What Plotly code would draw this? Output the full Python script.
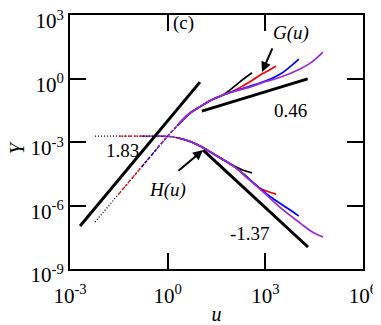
import numpy as np
import plotly.graph_objects as go

# ---- data (log10 values) ----
# low-u part shared by all curves (dotted/dashed region)
LOW_LOGU = [-2.23, -1.5, -0.8, -0.3, 0.0, 0.3]
G_LOW = [-6.78, -5.45, -4.17, -3.25, -2.72, -2.22]
H_LOW = [-2.72, -2.72, -2.72, -2.72, -2.73, -2.80]
LOW_START = {"black": 0, "red": 1, "blue": 2, "purple": 3}

# solid trunk shared by all sizes
G_TRUNK_LOGU = [0.3, 0.69, 1.0, 1.3, 1.7]
G_TRUNK = [-2.22, -1.63, -1.33, -1.05, -0.78]
H_TRUNK_LOGU = [0.3, 0.6, 0.9, 1.2, 1.5, 1.8]
H_TRUNK = [-2.80, -2.93, -3.12, -3.37, -3.65, -3.92]

# per-size tails
G_TAIL_LOGU = {
    "black": [1.9, 2.2, 2.59],
    "red": [2.0, 2.3, 2.6, 2.9, 3.1, 3.33],
    "blue": [2.0, 2.5, 3.0, 3.5, 3.76, 4.03],
    "purple": [2.0, 2.5, 3.0, 3.5, 4.0, 4.4, 4.77],
}
G_TAIL = {
    "black": [-0.56, -0.18, 0.27],
    "red": [-0.60, -0.36, -0.08, 0.22, 0.38, 0.59],
    "blue": [-0.62, -0.38, -0.12, 0.25, 0.56, 0.92],
    "purple": [-0.63, -0.42, -0.15, 0.08, 0.40, 0.75, 1.25],
}
H_TAIL_LOGU = {
    "black": [2.0, 2.3, 2.59],
    "red": [2.1, 2.4, 2.78, 3.05, 3.33],
    "blue": [2.1, 2.5, 3.0, 3.3, 3.67, 4.03],
    "purple": [2.1, 2.5, 3.0, 3.5, 4.07, 4.47, 4.77],
}
H_TAIL = {
    "black": [-4.10, -4.32, -4.46],
    "red": [-4.22, -4.60, -5.13, -5.33, -5.46],
    "blue": [-4.22, -4.75, -5.40, -5.74, -6.12, -6.50],
    "purple": [-4.23, -4.78, -5.45, -6.15, -6.83, -7.28, -7.49],
}

# reference power-law lines
REF_LINES = {
    "1.83": ([-2.69, 0.99], [-6.97, -0.17]),
    "0.46": ([1.05, 4.30], [-1.54, -0.02]),
    "-1.37": ([1.09, 4.31], [-3.38, -7.96]),
}

COLORS = {"black": "#000000", "red": "#ff0000", "blue": "#0000ff", "purple": "#9a2bd8"}
LOW_DASH = {"black": "1px,2px", "red": "3px,2px", "blue": "3px,2px", "purple": "3px,2px"}

X_TICKS = [1e-3, 1e0, 1e3, 1e6]
X_TICKTEXT = ["10<sup>-3</sup>", "10<sup>0</sup>", "10<sup>3</sup>", "10<sup>6</sup>"]
Y_TICKS = [1e-9, 1e-6, 1e-3, 1e0, 1e3]
Y_TICKTEXT = ["10<sup>-9</sup>", "10<sup>-6</sup>", "10<sup>-3</sup>", "10<sup>0</sup>", "10<sup>3</sup>"]

FONT = "Liberation Serif"
p = lambda a: np.power(10.0, np.asarray(a, dtype=float))

fig = go.Figure()

order = ["black", "red", "blue", "purple"]
# dashed/dotted low-u parts
for c in order:
    s = LOW_START[c]
    for ys in (G_LOW, H_LOW):
        fig.add_trace(go.Scatter(x=p(LOW_LOGU[s:]), y=p(ys[s:]), mode="lines",
                                 line=dict(color=COLORS[c], width=1.3, dash=LOW_DASH[c]),
                                 showlegend=False, hoverinfo="skip"))
# solid parts
for c in order:
    fig.add_trace(go.Scatter(x=p(G_TRUNK_LOGU + G_TAIL_LOGU[c]), y=p(G_TRUNK + G_TAIL[c]),
                             mode="lines", line=dict(color=COLORS[c], width=1.7, shape="spline"),
                             showlegend=False, hoverinfo="skip"))
    fig.add_trace(go.Scatter(x=p(H_TRUNK_LOGU + H_TAIL_LOGU[c]), y=p(H_TRUNK + H_TAIL[c]),
                             mode="lines", line=dict(color=COLORS[c], width=1.7, shape="spline"),
                             showlegend=False, hoverinfo="skip"))
# reference lines
for k, (lx, ly) in REF_LINES.items():
    fig.add_trace(go.Scatter(x=p(lx), y=p(ly), mode="lines",
                             line=dict(color="black", width=3),
                             showlegend=False, hoverinfo="skip"))

txt = dict(family=FONT, size=19, color="black")
ann = [
    dict(x=-1.40, y=-3.42, text="1.83", showarrow=False, font=txt),
    dict(x=3.76, y=-1.53, text="0.46", showarrow=False, font=txt),
    dict(x=2.53, y=-7.30, text="-1.37", showarrow=False, font=txt),
    dict(x=0.50, y=2.62, text="(c)", showarrow=False, font=txt),
    dict(x=3.79, y=2.15, text="<i>G(u)</i>", showarrow=False, font=txt),
    dict(x=0.01, y=-5.27, text="<i>H(u)</i>", showarrow=False, font=txt),
    dict(x=2.898, y=0.307, ax=3.236, ay=1.49, axref="x", ayref="y", text="",
         showarrow=True, arrowhead=2, arrowsize=1, arrowwidth=2, arrowcolor="black"),
    dict(x=1.086, y=-3.38, ax=0.287, ay=-4.42, axref="x", ayref="y", text="",
         showarrow=True, arrowhead=2, arrowsize=1, arrowwidth=2, arrowcolor="black"),
]
for a in ann:
    a.setdefault("xref", "x")
    a.setdefault("yref", "y")
# y-axis title as a rotated annotation placed left of the tick labels
ann.append(dict(xref="paper", yref="paper", x=-0.18, y=0.476, xanchor="center", yanchor="middle",
                text="<i>Y</i>", textangle=-90, showarrow=False,
                font=dict(family=FONT, size=20, color="black")))

axis_common = dict(type="log", showgrid=False, zeroline=False, showline=True,
                   linecolor="black", linewidth=2, mirror="ticks", ticks="inside",
                   ticklen=16, tickwidth=2, tickcolor="black", automargin=False,
                   ticklabeloverflow="allow",
                   tickfont=dict(family=FONT, size=21, color="black"))

# the page body has an 8px margin, so the figure margins are reduced by 8px
fig.update_layout(
    width=381, height=325,
    margin=dict(l=62, r=26, t=7, b=64, autoexpand=False),
    paper_bgcolor="white", plot_bgcolor="white",
    font=dict(family=FONT, color="black"),
    xaxis=dict(range=[-3, 6], tickvals=X_TICKS, ticktext=X_TICKTEXT, ticklabelstandoff=7,
               title=dict(text="<i>u</i>", font=dict(family=FONT, size=20, color="black"), standoff=0),
               **axis_common),
    yaxis=dict(range=[-9, 3], tickvals=Y_TICKS, ticktext=Y_TICKTEXT, ticklabelshift=6,
               **axis_common),
    annotations=ann,
)

fig.write_html("out.html")
